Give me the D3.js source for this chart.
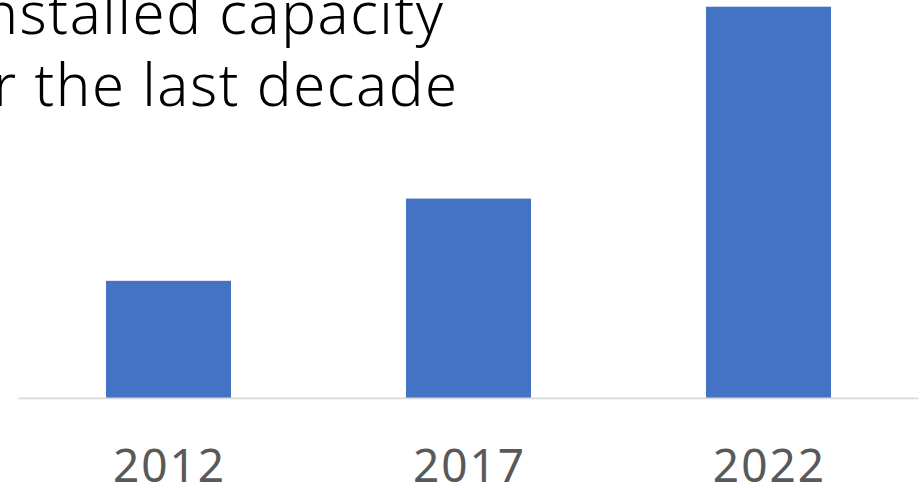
<!DOCTYPE html>
<html>
<head>
<meta charset="utf-8">
<script src="https://cdn.jsdelivr.net/npm/d3@7"></script>
<style>
  html, body { margin: 0; padding: 0; background: #fff; overflow: hidden; }
  svg { display: block; }
</style>
</head>
<body>
<svg id="chart" width="924" height="488"></svg>
<script>
// Data (relative heights; no value axis shown)
const categories = ["2012", "2017", "2022"];
const values = [30, 51, 100];
const titleLines = ["Growth in installed capacity", "over the last decade"];

const W = 924, H = 488;
const svg = d3.select("#chart");

const x = d3.scaleBand()
  .domain(categories)
  .range([18.5, 918.5])
  .paddingInner(0.5833)
  .paddingOuter(0.29167);

const y = d3.scaleLinear()
  .domain([0, 100])
  .range([398.3, 6.7]);

// bars
svg.append("g").selectAll("rect")
  .data(categories.map((c, i) => ({ c, v: values[i] })))
  .join("rect")
  .attr("x", d => x(d.c))
  .attr("width", x.bandwidth())
  .attr("y", d => y(d.v))
  .attr("height", d => y(0) - y(d.v))
  .attr("fill", "#4472C4");

// baseline axis
const axis = d3.axisBottom(x).tickSize(0).tickPadding(0);
const gx = svg.append("g")
  .attr("transform", `translate(0,${y(0)})`)
  .call(axis);
gx.select(".domain")
  .attr("stroke", "#D9D9D9")
  .attr("stroke-width", 1.8)
  .attr("d", `M${x.range()[0]},0H${x.range()[1]}`);
gx.selectAll(".tick text")
  .attr("dy", 0)
  .attr("y", 83.5)
  .attr("x", 1)
  .attr("fill", "#595959")
  .style("font-family", "'Noto Sans', 'Open Sans', sans-serif")
  .style("font-size", "46px")
  .style("letter-spacing", "2px")
  .style("font-weight", 400);

// title (cropped at the left edge in the reference)
const title = svg.append("g")
  .style("font-family", "'Noto Sans', 'Open Sans', sans-serif")
  .style("font-size", "58px")
  .style("font-weight", 300)
  .style("letter-spacing", "1.6px")
  .attr("fill", "#000");
title.append("text").attr("x", 444.6).attr("y", 33.5).attr("text-anchor", "end").text(titleLines[0]);
title.append("text").attr("x", 458.6).attr("y", 105.5).attr("text-anchor", "end").text(titleLines[1]);
</script>
</body>
</html>
